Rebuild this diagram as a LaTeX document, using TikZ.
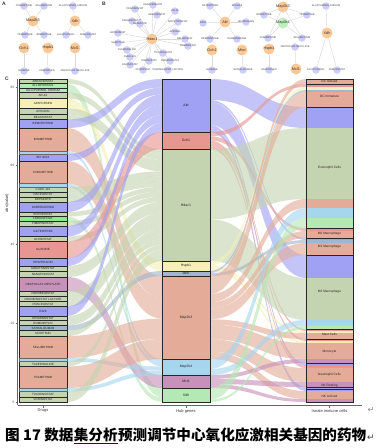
\documentclass[tikz,border=0pt]{standalone}
\usepackage{fontspec}
\setmainfont{Liberation Sans}
\newfontfamily\cjk{Noto Sans CJK SC}
\newfontfamily\djv{DejaVu Sans}
\usetikzlibrary{backgrounds}
\definecolor{cAkt}{RGB}{160,160,245}
\definecolor{cGch}{RGB}{232,150,145}
\definecolor{cHdac}{RGB}{196,212,176}
\definecolor{cHsp}{RGB}{246,240,182}
\definecolor{cMtor}{RGB}{160,182,204}
\definecolor{cMapk3}{RGB}{228,172,152}
\definecolor{cMapk4}{RGB}{166,214,238}
\definecolor{cMcl}{RGB}{200,145,186}
\definecolor{cXdh}{RGB}{180,232,180}
\definecolor{cFeb}{RGB}{140,232,140}
\definecolor{gnodec}{RGB}{252,200,150}
\definecolor{dnodec}{RGB}{205,205,250}
\definecolor{greennode}{RGB}{190,240,190}
\definecolor{edgec}{RGB}{218,218,218}
\newcommand\lflow[5]{\fill[#5,fill opacity=0.62] (67,#1) .. controls (114.5,#1) and (114.5,#3) .. (162,#3) -- (162,#4) .. controls (114.5,#4) and (114.5,#2) .. (67,#2) -- cycle;}
\newcommand\rflow[5]{\fill[#5,fill opacity=0.62] (210,#1) .. controls (258,#1) and (258,#3) .. (306,#3) -- (306,#4) .. controls (258,#4) and (258,#2) .. (210,#2) -- cycle;}
\begin{document}
\begin{tikzpicture}[x=1pt,y=-1pt,
  sbox/.style={draw=black!85,line width=0.7pt},
  slab/.style={font=\fontsize{3}{3}\selectfont,inner sep=0pt,text=black!85},
  mlab/.style={font=\fontsize{3.5}{3.5}\selectfont,inner sep=0pt,text=black!85},
  rlab/.style={font=\fontsize{3.2}{3.2}\selectfont,inner sep=0pt,text=black!85},
  hub/.style={circle,fill=gnodec,minimum size=11pt,inner sep=0pt},
  hubg/.style={circle,fill=greennode,minimum size=11pt,inner sep=0pt},
  drug/.style={circle,fill=dnodec,minimum size=7.5pt,inner sep=0pt},
  hublab/.style={font=\fontsize{3.8}{3.8}\selectfont,text=black!80,inner sep=0pt},
  druglab/.style={font=\fontsize{2.5}{2.5}\selectfont,text=black!75,inner sep=0pt},
  edge/.style={draw=edgec,line width=0.45pt},
  panel/.style={font=\bfseries\fontsize{5}{5}\selectfont,inner sep=0pt,text=black!80},
  axlab/.style={font=\fontsize{4}{4}\selectfont,inner sep=0pt,text=black!80},
  ticklab/.style={font=\fontsize{3.2}{3.2}\selectfont,inner sep=0pt,text=black!70},
  captext/.style={font=\cjk\bfseries\fontsize{14.6}{14.6}\selectfont,inner sep=0pt}]
\begin{scope}[on background layer]
\fill[white] (0,0) rectangle (382,448);
\end{scope}
\useasboundingbox (0,0) rectangle (382,448);

% ---------- flows ----------
\foreach \a/\b/\c/\d/\col in {
79/83.5/149/153.7/cHdac, 83.5/88/388/392.7/cXdh, 88/92.5/392.7/397.3/cXdh,
92.5/98.5/153.7/159.9/cHdac, 98.5/108.5/261/271/cHsp, 108.5/114.5/159.9/166.1/cHdac,
114.5/119.5/166.1/171.3/cHdac, 119.5/128/79/87.5/cAkt, 128/151/276/297.3/cMapk3,
151/154/359/362.7/cMapk4, 154/161/87.5/94.5/cAkt, 161/183.5/297.3/318.6/cMapk3,
183.5/187/362.7/366.4/cMapk4, 187/192/171.3/176.5/cHdac, 192/197/176.5/181.7/cHdac,
197/202/181.7/186.9/cHdac, 202/212/94.5/104.5/cAkt, 212/216.5/186.9/191.6/cHdac,
216.5/221/397.3/402/cXdh, 221/226/191.6/196.8/cHdac, 226/236.5/104.5/115/cAkt,
236.5/241.5/196.8/202/cHdac, 241.5/258/132/149/cGch, 258/266/115/123/cAkt,
266/271.5/202/207.7/cHdac, 271.5/277/207.7/213.4/cHdac, 277/291/375/388/cMcl,
291/296.5/213.4/219.1/cHdac, 296.5/301.5/219.1/224.3/cHdac, 301.5/306.5/224.3/229.5/cHdac,
306.5/316/123/132/cAkt, 316/320.5/229.5/234.2/cHdac, 320.5/325.5/234.2/239.4/cHdac,
325.5/330.5/271/276/cMtor, 330.5/336/239.4/245.1/cHdac, 336/358/318.6/339/cMapk3,
358/361.5/366.4/370.7/cMapk4, 361.5/366.5/245.1/250.3/cHdac, 366.5/388/339/359/cMapk3,
388/391.5/370.7/375/cMapk4, 391.5/397/250.3/256/cHdac, 397/402/256/261/cHdac}
{\lflow{\a}{\b}{\c}{\d}{\col}}

\foreach \a/\b/\c/\d/\col in {
79/100/107/128/cAkt, 100/102/238/240/cAkt, 102/125/255/278/cAkt, 125/128/363/366/cAkt,
128/130/387/389/cAkt, 130/132/389/391/cAkt,
132/136.25/84/87/cGch, 136.25/140.5/228/231/cGch, 140.5/143.3/329/331/cGch,
143.3/146.2/339/341/cGch, 146.2/149/366/368/cGch,
149/219.4/128/199/cHdac, 219.4/261/278/320/cHdac,
261/265.3/87/90/cHsp, 265.3/268.1/331/333/cHsp, 268.1/271/341/343/cHsp,
271/273/90/92/cMtor, 273/276/240/243/cMtor,
276/280.5/79/84/cMapk3, 280.5/294/92/107/cMapk3, 294/302.2/199/208/cMapk3,
302.2/308.5/231/238/cMapk3, 308.5/319.3/243/255/cMapk3, 319.3/324.7/333/339/cMapk3,
324.7/339.2/343/359/cMapk3, 339.2/351.8/368/382/cMapk3, 351.8/359/391/399/cMapk3,
359/369/208/218/cMapk4, 369/375/320/326/cMapk4,
375/379/359/363/cMcl, 379/384/382/387/cMcl, 384/388/399/402/cMcl,
388/399.5/218/228/cXdh, 399.5/402/326/329/cXdh}
{\rflow{\a}{\b}{\c}{\d}{\col}}

% ---------- left strata (drugs) ----------
\foreach \ya/\yb/\col/\txt/\nm in {
79/83.5/cHdac/ABEXINOSTAT/abex, 83.5/88/cXdh/ALLOPURINOL/allo,
88/92.5/cXdh/ALLOPURINOL SODIUM/allos, 92.5/98.5/cHdac/AR-42/ar,
98.5/108.5/cHsp/APAFORSEN/apaf, 108.5/114.5/cHdac/APICIDIN/apic,
114.5/119.5/cHdac/BELINOSTAT/beli, 119.5/128/cAkt/BEMCENTINIB/bemc,
154/161/cAkt/BPI-9016/bpi, 187/192/cHdac/CUDC-101/cudc,
192/197/cHdac/DACINOSTAT/daci, 197/202/cHdac/DEPAKOTE/depa,
202/212/cAkt/DUBERMATINIB/dube, 212/216.5/cHdac/ENTINOSTAT/enti,
216.5/221/cFeb/FEBUXOSTAT/febu, 221/226/cHdac/FIMEPINOSTAT/fime,
226/236.5/cAkt/GILTERITINIB/gilt, 236.5/241.5/cHdac/GIVINOSTAT/givi,
241.5/258/cGch/GUANINE/guan, 258/266/cAkt/HESPERADIN/hesp,
266/271.5/cHdac/MOCETINOSTAT/moce, 271.5/277/cHdac/NANATINOSTAT/nana,
277/291/cMcl/OBATOCLAX MESYLATE/obat, 291/296.5/cHdac/PANOBINOSTAT/pano,
296.5/301.5/cHdac/PANOBINOSTAT LACTATE/panl, 301.5/306.5/cHdac/PRACINOSTAT/prac,
306.5/316/cAkt/R428/rfour, 316/320.5/cHdac/RESMINOSTAT/resm,
320.5/325.5/cHdac/ROMIDEPSIN/romi, 325.5/330.5/cMtor/SATRALIZUMAB/satr,
330.5/336/cHdac/SCRIPTAID/scri, 361.5/366.5/cHdac/TACEDINALINE/tace,
391.5/397/cHdac/TUCIDINOSTAT/tuci, 397/402/cHdac/VORINOSTAT/vori}
{\fill[\col] (19,\ya) rectangle (67,\yb);
 \draw[sbox] (19,\ya) rectangle (67,\yb);
 \node[slab] (L\nm) at (43,{(\ya+\yb)/2}) {\txt};}

\foreach \ya/\ym/\yb/\txt/\nm in {128/151/154/BINIMETINIB/bini, 161/183.5/187/COBIMETINIB/cobi,
336/358/361.5/SELUMETINIB/selu, 366.5/388/391.5/TRAMETINIB/tram}
{\fill[cMapk3] (19,\ya) rectangle (67,\ym);
 \fill[cMapk4] (19,\ym) rectangle (67,\yb);
 \draw[sbox] (19,\ya) rectangle (67,\ym);
 \draw[draw=black!60,line width=0.4pt] (19,\ym) rectangle (67,\yb);
 \node[slab] (L\nm) at (43,{(\ya+\ym)/2}) {\txt};}

% ---------- middle strata (hub genes) ----------
\foreach \ya/\yb/\col/\txt/\nm in {79/132/cAkt/Akt/akt, 132/149/cGch/Gch1/gch, 149/261/cHdac/Hdac1/hdac,
261/271/cHsp/Hspb1/hsp, 271/276/cMtor/Mtor/mtor, 276/359/cMapk3/Map2k3/mapa,
359/375/cMapk4/Map2k4/mapb, 375/388/cMcl/Mcl1/mcl, 388/402/cXdh/Xdh/xdh}
{\fill[\col] (162,\ya) rectangle (210,\yb);
 \draw[sbox] (162,\ya) rectangle (210,\yb);
 \node[mlab] (M\nm) at (186,{(\ya+\yb)/2}) {\txt};}

% ---------- right strata (cells) ----------
\foreach \ya/\yb/\col in {79/84/cMapk3, 84/87/cGch, 87/90/cHsp, 90/92/cMtor, 92/107/cMapk3,
107/128/cAkt, 128/199/cHdac, 199/208/cMapk3, 208/218/cMapk4, 218/228/cXdh,
228/231/cGch, 231/238/cMapk3, 238/240/cAkt, 240/243/cMtor, 243/255/cMapk3,
255/278/cAkt, 278/320/cHdac, 320/326/cMapk4, 326/329/cXdh,
329/331/cGch, 331/333/cHsp, 333/339/cMapk3,
339/341/cGch, 341/343/cHsp, 343/359/cMapk3, 359/363/cMcl,
363/366/cAkt, 366/368/cGch, 368/382/cMapk3, 382/387/cMcl,
387/389/cAkt, 389/391/cAkt, 391/399/cMapk3, 399/402/cMcl}
{\fill[\col] (306,\ya) rectangle (353,\yb);}

\foreach \ya/\yb/\ly/\txt/\nm in {79/84/81.5/DC Actived/dca, 84/107/96/DC Immature/dci,
107/228/168/Eosinophil Cells/eos, 228/238/234/M0 Macrophage/mzero, 238/255/247/M1 Macrophage/mone,
255/329/292/M2 Macrophage/mtwo, 329/339/334/Mast Cells/mast, 339/363/352/Monocyte/mono,
363/387/375/Neutrophil Cells/neut, 387/389/386/NK Resting/nkr, 389/402/396/NK Actived/nka}
{\draw[sbox] (306,\ya) rectangle (353,\yb);
 \node[rlab] (R\nm) at (329.5,\ly) {\txt};}

% ---------- axes ----------
\draw[black!60,line width=0.4pt] (17.5,79) -- (17.5,405);
\foreach \v/\yy in {80/87,60/165,40/244,20/323,0/402}
{\draw[black!60,line width=0.4pt] (15.5,\yy) -- (17.5,\yy);
 \node[ticklab,anchor=east] (t\v) at (14.5,\yy) {\v};}
\node[axlab,rotate=90] (ytitle) at (7,203) {abs(value)};
\draw[black!60,line width=0.4pt] (17.5,405.5) -- (362,405.5);
\foreach \xx/\txt/\nm in {43/Drugs/xd,186/Hub genes/xh,329.5/Innate immune cells/xc}
{\draw[black!60,line width=0.4pt] (\xx,405.5) -- (\xx,407.5);
 \node[axlab] (\nm) at (\xx,411) {\txt};}
\node[font=\djv\fontsize{8}{8}\selectfont,text=black!45,inner sep=0pt] (retax) at (371,410) {↵};

% ---------- panel labels ----------
\node[panel] (pA) at (4,4) {A};
\node[panel] (pB) at (104,4) {B};
\node[panel] (pC) at (7,79) {C};

% ---------- network A ----------
\node[hub,label={[hublab]center:Map2k3}] (aMap) at (33,21) {};
\node[hub,label={[hublab]center:Xdh}] (aXdh) at (75,21) {};
\node[hub,label={[hublab]center:Gch1}] (aGch) at (24,48) {};
\node[hub,label={[hublab]center:Hspb1}] (aHsp) at (48,48) {};
\node[hub,label={[hublab]center:Mcl1}] (aMcl) at (75,48) {};
\foreach \x/\y/\txt/\nm in {24/6/COBIMETINIB/cobi, 44/6/SELUMETINIB/selu, 73/6/ALLOPURINOL SODIUM/allos,
25/35/TRAMETINIB/tram, 44/35/BINIMETINIB/bini, 66/35/ALLOPURINOL/allo, 88/35/FEBUXOSTAT/febu,
24/71/GUANINE/guan, 47/71/APAFORSEN/apaf, 75/71/OBATOCLAX MESYLATE/obat}
{\node[drug,label={[druglab]center:\txt}] (a\nm) at (\x,\y) {};}

% ---------- network B ----------
\node[hub,label={[hublab]center:Hdac1}] (bHdac) at (152,39) {};
\node[hub,label={[hublab]center:Akt}] (bAkt) at (225,22) {};
\node[hub,label={[hublab]center:Gch1}] (bGch) at (212,50) {};
\node[hub,label={[hublab]center:Mtor}] (bMtor) at (242,50) {};
\node[hub,label={[hublab]center:Map2k3}] (bMapa) at (283,7) {};
\node[hubg,label={[hublab]center:Map2k4}] (bMapb) at (283,23) {};
\node[hub,label={[hublab]center:Xdh}] (bXdh) at (327,33) {};
\node[hub,label={[hublab]center:Hspb1}] (bHsp) at (269,49) {};
\node[hub,label={[hublab]center:Mcl1}] (bMcl) at (296,69) {};
\foreach \x/\y/\txt/\nm in {153/5/NANATINOSTAT/nana, 135/9/PRACINOSTAT/prac, 157/15/ABEXINOSTAT/abex,
175/11/AR-42/ar, 132/21/PANOBINOSTAT/pano, 140/24/DEPAKOTE/depa, 178/22/MOCETINOSTAT/moce,
118/33/ENTINOSTAT/enti, 175/32/APICIDIN/apic, 185/39/BELINOSTAT/beli, 118/43/SCRIPTAID/scri,
188/46/ROMIDEPSIN/romi, 127/50/TACEDINALINE/tace, 163/53/TUCIDINOSTAT/tuci, 130/57/CUDC-101/cudc,
130/65/DACINOSTAT/daci, 149/61/VORINOSTAT/vori, 170/61/FIMEPINOSTAT/fime, 143/70/GIVINOSTAT/givi,
168/70/PANOBINOSTAT LACTATE/panl,
210/6/GILTERITINIB/gilt, 237/6/BPI-9016/bpi, 203/23/R428/rfour, 246/22/HESPERADIN/hesp,
210/39/BEMCENTINIB/bemc, 237/39/DUBERMATINIB/dube, 212/70/GUANINE/guan, 243/70/SATRALIZUMAB/satr,
264/15/BINIMETINIB/bini, 307/15/TRAMETINIB/tram, 268/38/COBIMETINIB/cobi, 302/38/SELUMETINIB/selu,
326/6/ALLOPURINOL SODIUM/allos, 316/70/ALLOPURINOL/allo, 337/70/FEBUXOSTAT/febu,
269/70/APAFORSEN/apaf, 295/47/OBATOCLAX MESYLATE/obat}
{\node[drug,label={[druglab]center:\txt}] (b\nm) at (\x,\y) {};}

\begin{scope}[on background layer]
\foreach \n in {cobi,selu,tram,bini} {\draw[edge] (aMap) -- (a\n);}
\foreach \n in {allos,allo,febu} {\draw[edge] (aXdh) -- (a\n);}
\draw[edge] (aGch) -- (aguan);
\draw[edge] (aHsp) -- (aapaf);
\draw[edge] (aMcl) -- (aobat);
\foreach \n in {nana,prac,abex,ar,pano,depa,moce,enti,apic,beli,scri,romi,tace,tuci,cudc,daci,vori,fime,givi,panl}
{\draw[edge] (bHdac) -- (b\n);}
\foreach \n in {gilt,bpi,rfour,hesp,bemc,dube} {\draw[edge] (bAkt) -- (b\n);}
\draw[edge] (bGch) -- (bguan);
\draw[edge] (bMtor) -- (bsatr);
\foreach \n in {bini,tram,cobi,selu} {\draw[edge] (bMapa) -- (b\n); \draw[edge] (bMapb) -- (b\n);}
\foreach \n in {allos,allo,febu} {\draw[edge] (bXdh) -- (b\n);}
\draw[edge] (bHsp) -- (bapaf);
\draw[edge] (bMcl) -- (bobat);
\end{scope}

% ---------- caption ----------
\node[captext,anchor=base west] (cap1) at (5,440) {图 17 数据};
\node[captext,anchor=base west] (cap2) at (cap1.base east) {集分析};
\node[captext,anchor=base west] (cap3) at (cap2.base east) {预测调节中心氧化应激相关基因的药物};
\draw[blue!75!black,line width=0.8pt] ([yshift=-3pt]cap2.base west) -- ([yshift=-3pt]cap2.base east);
\node[anchor=base west,font=\djv\fontsize{9}{9}\selectfont,text=black!75,inner sep=0pt] (capret) at ([xshift=0.5pt]cap3.base east) {↵};
\end{tikzpicture}
\end{document}
